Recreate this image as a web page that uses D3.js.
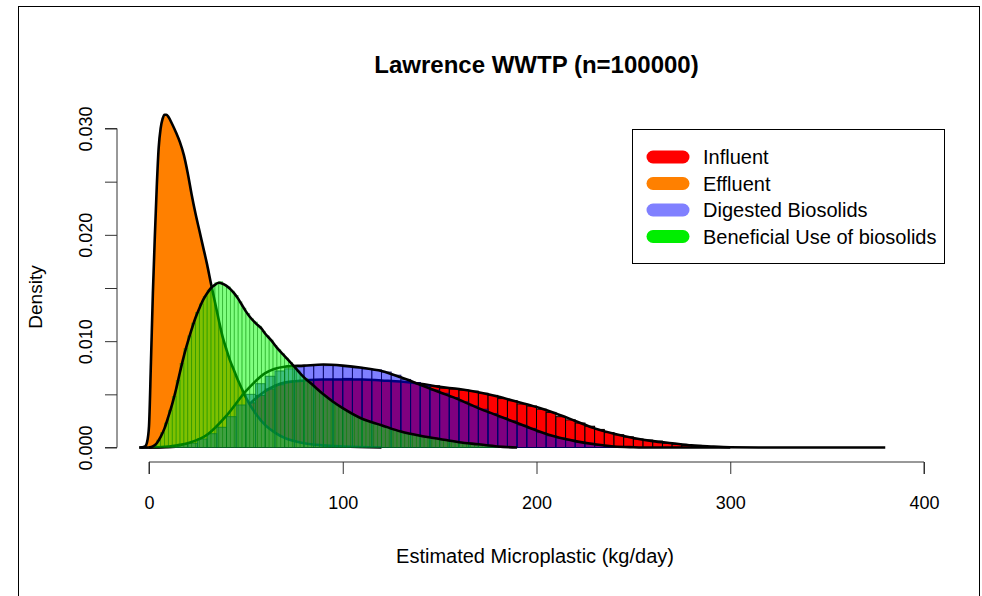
<!DOCTYPE html>
<html>
<head>
<meta charset="utf-8">
<script src="https://cdn.jsdelivr.net/npm/d3@7"></script>
<style>
  html, body { margin: 0; padding: 0; background: #fff; }
  svg { display: block; }
  text { font-family: "Liberation Sans", Arial, sans-serif; fill: #000; }
</style>
</head>
<body>
<svg id="chart" width="982" height="596"></svg>
<script>
// ---------------- DATA ----------------
const title = "Lawrence WWTP (n=100000)";
const xLabel = "Estimated Microplastic (kg/day)";
const yLabel = "Density";
const xTicks = [0, 100, 200, 300, 400];
const yTicks = [0, 0.005, 0.010, 0.015, 0.020, 0.025, 0.030];
const yTickLabels = ["0.000", "", "0.010", "", "0.020", "", "0.030"];
const seriesNames = ["Influent", "Effluent", "Digested Biosolids", "Beneficial Use of biosolids"];

// Influent histogram (bin width 5, starting at 15)
const influentBinStart = 15, influentBinWidth = 5;
const influentBins = [0.0002,0.0004,0.0007,0.0011,0.0016,0.0025,0.0033,0.0042,0.0049,0.0055,
  0.0059,0.0062,0.0063,0.0063,0.0064,0.0064,0.0064,0.0065,0.0064,0.0064,
  0.0063,0.0063,0.0062,0.0062,0.0061,0.0059,0.0058,0.0056,0.0055,0.0054,
  0.0053,0.0051,0.0049,0.0046,0.0044,0.0041,0.0039,0.0036,0.0033,0.0029,
  0.0026,0.0023,0.0020,0.0017,0.0014,0.0012,0.0010,0.0008,0.0007,0.0006,
  0.0004,0.0003,0.0002,0.0002,0.0001,0.00005,0.00003];
// Influent density curve
const influentX = [-5,0,10,20,30,40,50,60,70,80,90,100,110,120,130,140,150,160,170,180,190,200,210,220,230,240,250,260,270,280,290,300,320,350,380];
const influentY = [0,0,0.00003,0.0003,0.001,0.0022,0.0038,0.0053,0.0061,0.0063,0.0064,0.0064,0.0064,0.0063,0.0062,0.006,0.0057,0.0055,0.0052,0.0048,0.0043,0.0038,0.0032,0.0025,0.0018,0.0013,0.0009,0.0006,0.0004,0.0002,0.0001,0.00003,0,0,0];

// Effluent density curve (filled)
const effluentX = [-4,-2,-1,0,1,2,3,4,5,6,7,8,9,10,12,14,16,18,20,22,24,26,28,30,32,34,36,38,40,42,44,46,48,50,55,60,65,70,80,90,100,120];
const effluentY = [0,0.0001,0.0005,0.002,0.008,0.0145,0.0198,0.0245,0.0282,0.0300,0.0309,0.0313,0.0313,0.0311,0.0304,0.0296,0.0287,0.0275,0.0258,0.0238,0.0220,0.0204,0.0188,0.0172,0.0154,0.0137,0.0120,0.0104,0.0092,0.0081,0.0072,0.0063,0.0055,0.0047,0.0032,0.0021,0.0014,0.0009,0.0004,0.0002,0.0001,0];

// Digested biosolids histogram (bin width 5, starting at 10)
const digestedBinStart = 10, digestedBinWidth = 5;
const digestedBins = [0.0001,0.0003,0.0004,0.0008,0.0013,0.0019,0.0029,0.0040,0.0050,0.0060,
  0.0067,0.0072,0.0074,0.0076,0.0077,0.0078,0.0077,0.0077,0.0076,0.0075,
  0.0074,0.0073,0.0071,0.0068,0.0064,0.0061,0.0058,0.0054,0.0051,0.0047,
  0.0043,0.0039,0.0036,0.0032,0.0028,0.0025,0.0021,0.0018,0.0014,0.0011,
  0.0009,0.0007,0.0005,0.0004,0.0002,0.0001,0.00005,0.00003];
const digestedX = [-5,0,10,20,30,40,50,60,70,80,90,100,110,120,130,140,150,160,170,180,190,200,210,220,230,240,250,260,300];
const digestedY = [0,0,0.0001,0.0004,0.0012,0.003,0.0053,0.0070,0.0076,0.0077,0.0078,0.0077,0.0075,0.0072,0.0066,0.0059,0.0052,0.0045,0.0037,0.003,0.0023,0.0016,0.001,0.0006,0.0003,0.0001,0.00003,0,0];

// Beneficial use histogram (bin width 2, starting at 0)
const beneficialBinStart = 0, beneficialBinWidth = 2;
const beneficialBins = [0.00005,0.0002,0.0007,0.0014,0.0023,0.0035,0.0048,0.0063,0.0079,0.0093,
  0.0105,0.0117,0.0127,0.0135,0.0142,0.0148,0.0152,0.0155,0.0156,0.0153,
  0.0151,0.0147,0.0143,0.0137,0.0131,0.0126,0.0121,0.0118,0.0114,0.0109,
  0.0105,0.0101,0.0096,0.0092,0.0088,0.0084,0.0080,0.0076,0.0072,0.0068,
  0.0065,0.0062,0.0058,0.0055,0.0052,0.0049,0.0046,0.0043,0.0040,0.0038,
  0.0036,0.0034,0.0032,0.0030,0.0028,0.0027,0.0025,0.0024,0.0022,0.0021,
  0.0020,0.0019,0.0017,0.0016,0.0015,0.0014,0.0013,0.0013,0.0012,0.0011,
  0.0010,0.0010,0.0009,0.0009,0.0008,0.0007,0.0007,0.0006,0.0006,0.0005,
  0.0005,0.0004,0.0004,0.0003,0.0003,0.0002,0.0002,0.0002,0.0001,0.0001];
const beneficialX = [0,2,4,6,8,10,12,14,16,18,20,22,24,26,28,30,32,34,36,38,40,42,44,46,48,50,52,55,58,60,63,66,70,75,80,85,90,95,100,110,120,130,140,150,160,170,180,190];
const beneficialY = [0,0.0001,0.0004,0.001,0.0018,0.0029,0.0041,0.0055,0.0071,0.0086,0.0099,0.0111,0.0122,0.0131,0.0139,0.0145,0.015,0.0153,0.0155,0.0154,0.0152,0.0149,0.0145,0.014,0.0134,0.0128,0.0123,0.0117,0.0112,0.0107,0.0101,0.0094,0.0086,0.0076,0.0066,0.0058,0.005,0.0043,0.0037,0.0027,0.0021,0.0015,0.0011,0.0008,0.0005,0.0003,0.0001,0];

// ---------------- DRAW ----------------
const svg = d3.select("#chart");
const x = d3.scaleLinear().domain([0, 400]).range([149, 924]);
const y = d3.scaleLinear().domain([0, 0.03]).range([447.5, 128.5]);

// frame
svg.append("rect").attr("x", 18.5).attr("y", 6.5).attr("width", 961).attr("height", 620)
  .attr("fill", "none").attr("stroke", "#000").attr("stroke-width", 1);

const line = d3.line().x(d => x(d[0])).y(d => y(d[1])).curve(d3.curveMonotoneX);
const area = d3.area().x(d => x(d[0])).y0(y(0)).y1(d => y(d[1])).curve(d3.curveMonotoneX);
const zip = (a, b) => a.map((v, i) => [v, b[i]]);

function bars(values, start, width, fill, stroke, sw) {
  svg.append("g").selectAll("rect").data(values).join("rect")
    .attr("x", (d, i) => x(start + i * width))
    .attr("width", x(width) - x(0))
    .attr("y", d => y(d))
    .attr("height", d => y(0) - y(d))
    .attr("fill", fill).attr("stroke", stroke).attr("stroke-width", sw);
}
function dens(xs, ys) {
  svg.append("path").datum(zip(xs, ys)).attr("d", line)
    .attr("fill", "none").attr("stroke", "#000").attr("stroke-width", 2.6)
    .attr("stroke-linejoin", "round");
}

// Influent
bars(influentBins, influentBinStart, influentBinWidth, "#ff0000", "#000", 1);
dens(influentX, influentY);
// Effluent
svg.append("path").datum(zip(effluentX, effluentY)).attr("d", area).attr("fill", "#ff8000");
dens(effluentX, effluentY);
// Digested
bars(digestedBins, digestedBinStart, digestedBinWidth, "rgba(0,0,255,0.5)", "rgba(0,0,90,0.75)", 1);
dens(digestedX, digestedY);
// Beneficial
bars(beneficialBins, beneficialBinStart, beneficialBinWidth, "rgba(0,255,0,0.5)", "rgba(0,130,0,0.45)", 0.8);
dens(beneficialX, beneficialY);

// axes
const xAxis = svg.append("g").attr("transform", "translate(0,462)")
  .call(d3.axisBottom(x).tickValues(xTicks).tickSize(12).tickFormat(d3.format("d")));
xAxis.select(".domain").attr("stroke", "#333").attr("d", `M${x(0)},12V0H${x(400)}V12`);
xAxis.selectAll(".tick line").attr("stroke", "#333");
xAxis.selectAll(".tick text").attr("font-size", 18).attr("font-family", "Liberation Sans, Arial, sans-serif")
  .attr("dy", null).attr("y", 47);

const yAxis = svg.append("g").attr("transform", "translate(117,0)")
  .call(d3.axisLeft(y).tickValues(yTicks).tickSize(12).tickFormat((d, i) => yTickLabels[i]));
yAxis.select(".domain").attr("stroke", "#333").attr("d", `M-12,${y(0)}H0V${y(0.03)}H-12`);
yAxis.selectAll(".tick line").attr("stroke", "#333");
yAxis.selectAll(".tick text").attr("font-size", 18).attr("font-family", "Liberation Sans, Arial, sans-serif")
  .attr("x", null).attr("dy", null).attr("text-anchor", "middle")
  .attr("transform", "translate(-25,0) rotate(-90)").attr("y", 0);

// labels
svg.append("text").attr("x", 536.5).attr("y", 73).attr("text-anchor", "middle")
  .attr("font-size", 24).attr("font-weight", "bold").text(title);
svg.append("text").attr("x", 535).attr("y", 563).attr("text-anchor", "middle")
  .attr("font-size", 20).text(xLabel);
svg.append("text").attr("transform", "translate(42,297) rotate(-90)").attr("text-anchor", "middle")
  .attr("font-size", 19).text(yLabel);

// legend
const legendColors = ["#ff0000", "#ff8000", "#8080ff", "#00ee00"];
svg.append("rect").attr("x", 632.5).attr("y", 129.5).attr("width", 312).attr("height", 134)
  .attr("fill", "#fff").attr("stroke", "#000").attr("stroke-width", 1);
const lg = svg.append("g").selectAll("g").data(seriesNames).join("g")
  .attr("transform", (d, i) => `translate(0,${157 + i * 26.5})`);
lg.append("line").attr("x1", 653).attr("x2", 683).attr("y1", 0).attr("y2", 0)
  .attr("stroke", (d, i) => legendColors[i]).attr("stroke-width", 13).attr("stroke-linecap", "round");
lg.append("text").attr("x", 703).attr("y", 7).attr("font-size", 20).text(d => d);
</script>
</body>
</html>
